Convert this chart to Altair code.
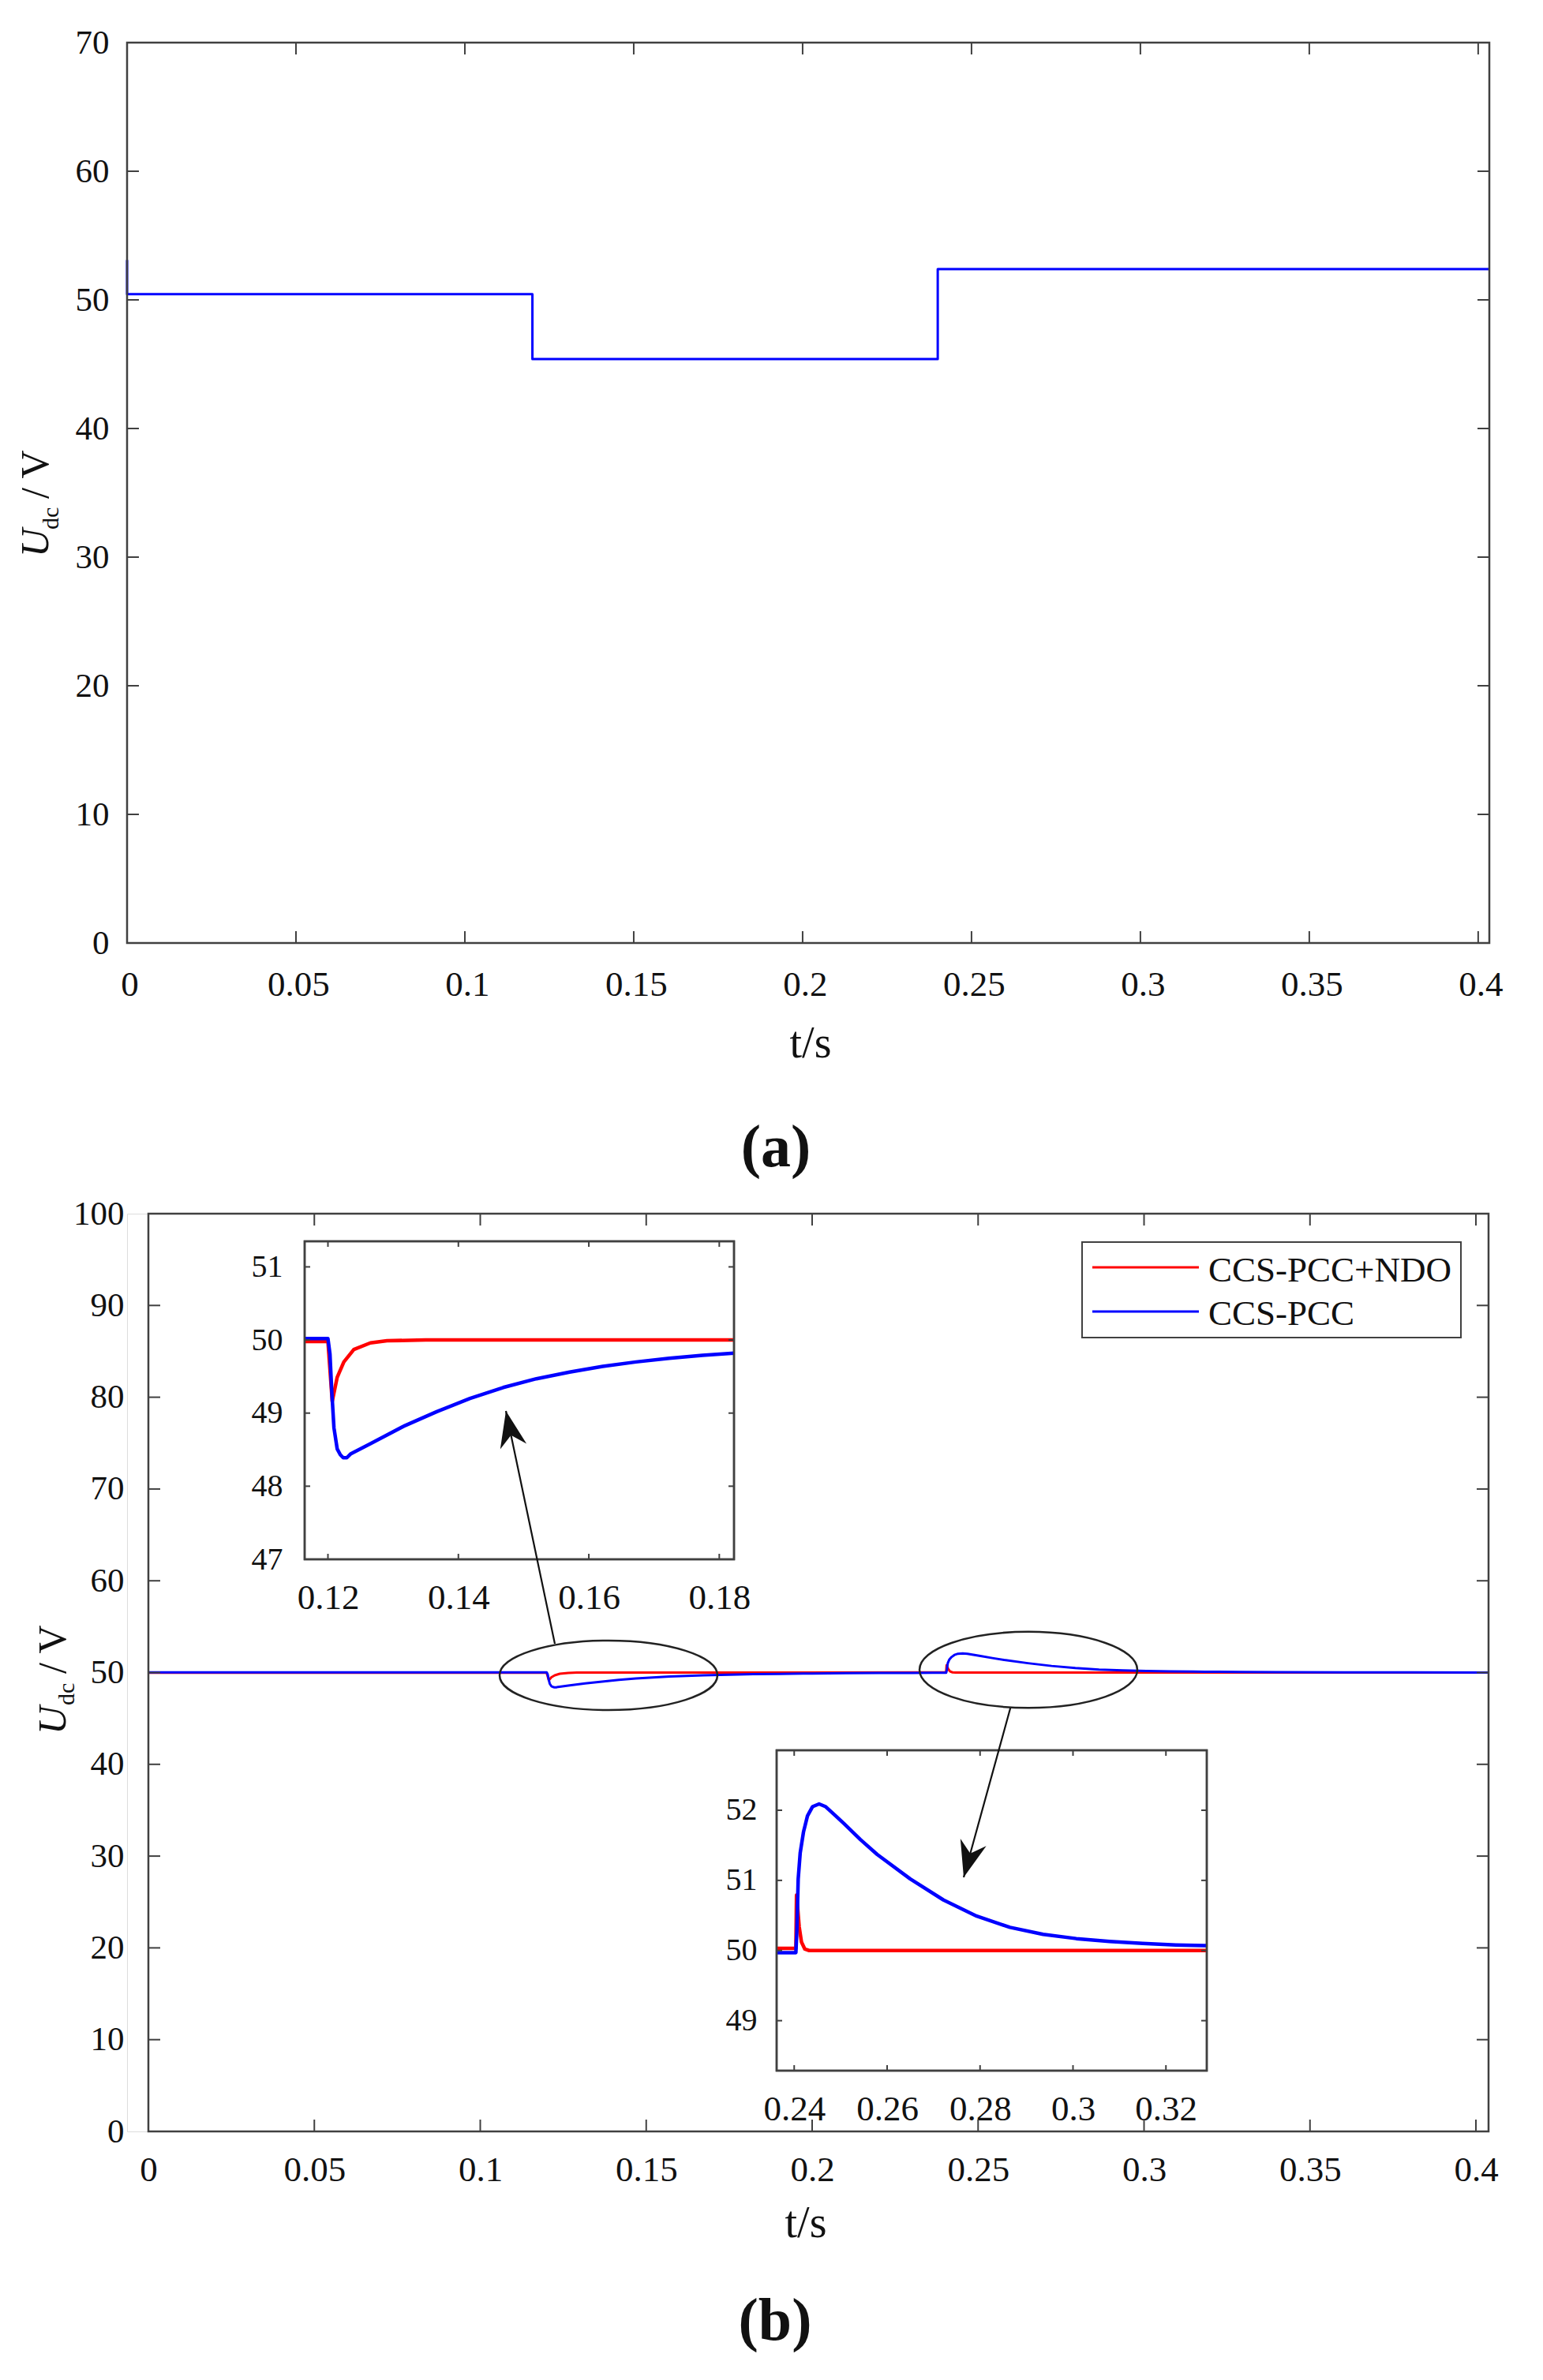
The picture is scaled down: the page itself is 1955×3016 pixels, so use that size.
import math
import altair as alt
import pandas as pd

# ---------------- data ----------------
# (a) DC-link voltage U_dc (V) versus time t (s)
a_t = [0.0, 0.0, 0.12, 0.12, 0.24, 0.24, 0.4033]
a_v = [53.1, 50.45, 50.45, 45.4, 45.4, 52.4, 52.4]

# (b) CCS-PCC+NDO (red)
red_t = [0.0, 0.11643, 0.1200, 0.12066, 0.12142, 0.12244, 0.12397, 0.12651, 0.12906,
         0.13500, 0.18226, 0.23622, 0.24036, 0.24050, 0.24071, 0.24107, 0.24157,
         0.24229, 0.24321, 0.28000, 0.32879, 0.4038]
red_v = [49.98, 49.98, 49.98, 49.16, 49.49, 49.70, 49.87, 49.96, 49.99,
         50.00, 50.00, 50.03, 50.03, 50.79, 50.64, 50.34, 50.12,
         50.02, 50.00, 50.00, 50.00, 50.00]

# (b) CCS-PCC (blue)
blue_t = [0.0, 0.11643, 0.1200, 0.12031, 0.12056, 0.12092, 0.12142, 0.1219, 0.12234,
          0.1229, 0.12346, 0.12651, 0.1316, 0.13669, 0.14178, 0.14687, 0.15196, 0.15705,
          0.16214, 0.16723, 0.17232, 0.17741, 0.18226, 0.19, 0.20, 0.21, 0.22, 0.23,
          0.23622, 0.24036, 0.24057, 0.24086, 0.24129, 0.2420, 0.24286, 0.24393, 0.24536,
          0.24679, 0.24893, 0.25071, 0.25429, 0.25786, 0.2650, 0.27214, 0.27929,
          0.28643, 0.29357, 0.30071, 0.30786, 0.3150, 0.32214, 0.32879, 0.34, 0.36,
          0.38, 0.4038]
blue_v = [50.02, 50.02, 50.02, 49.81, 49.34, 48.80, 48.51, 48.43, 48.39,
          48.39, 48.44, 48.58, 48.82, 49.02, 49.20, 49.35, 49.47, 49.56,
          49.64, 49.70, 49.75, 49.79, 49.82, 49.86, 49.90, 49.93, 49.95, 49.96,
          49.97, 49.97, 50.27, 51.02, 51.39, 51.69, 51.92, 52.05, 52.09,
          52.05, 51.92, 51.81, 51.58, 51.37, 51.02, 50.72, 50.49,
          50.33, 50.23, 50.17, 50.13, 50.10, 50.08, 50.07, 50.05, 50.03,
          50.02, 50.01]

series_names = ["CCS-PCC+NDO", "CCS-PCC"]
series_colors = ["#ff0000", "#0000ff"]

# tick values
a_xticks = [0, 0.05, 0.1, 0.15, 0.2, 0.25, 0.3, 0.35, 0.4]
a_yticks = [0, 10, 20, 30, 40, 50, 60, 70]
b_xticks = [0, 0.05, 0.1, 0.15, 0.2, 0.25, 0.3, 0.35, 0.4]
b_yticks = [0, 10, 20, 30, 40, 50, 60, 70, 80, 90, 100]
in1_xticks = [0.12, 0.14, 0.16, 0.18]
in1_yticks = [47, 48, 49, 50, 51]
in2_xticks = [0.24, 0.26, 0.28, 0.3, 0.32]
in2_yticks = [49, 50, 51, 52]

# annotation anchors in the (t, U) space of panel (b)
ell_t = [0.13864, 0.26516]
ell_v = [49.70, 50.30]
arrow_t0 = [0.12247, 0.25974]
arrow_v0 = [53.14, 46.15]
arrow_t1 = [0.10773, 0.24566]
arrow_v1 = [78.50, 27.69]

# ---------------- style / layout ----------------
FONT = "Liberation Serif"
TXT = "#111111"
FRAME = "#404040"

A_X, A_Y = [0, 0.4033], [0, 70]
A_W, A_H = 1726, 1141

B_X, B_Y = [0, 0.4038], [0, 100]
B_W, B_H = 1725, 1163
B_XR = [27, 1725]

I1_X, I1_Y = [0.11643, 0.18226], [47, 51.35]
I1_XR, I1_YR = [225, 769], [438, 35]
I2_X, I2_Y = [0.23622, 0.32879], [48.287, 52.855]
I2_XR, I2_YR = [823, 1368], [1086, 680]


def sc(dom, rng=None):
    kw = dict(domain=dom, nice=False, zero=False)
    if rng is not None:
        kw["range"] = rng
    return alt.Scale(**kw)


def xaxis(values, size, pad, offset=0, loff=0):
    return alt.Axis(orient="bottom", values=values, format="~g", domain=False, ticks=False,
                    tickSize=0, grid=False, title=None, labelFont=FONT, labelFontSize=size,
                    labelColor=TXT, labelPadding=pad, labelFlush=False, labelOverlap=False,
                    offset=offset, labelOffset=loff)


def yaxis(values, size, pad, offset=0):
    return alt.Axis(orient="left", values=values, format="d", domain=False, ticks=False,
                    tickSize=0, grid=False, title=None, labelFont=FONT, labelFontSize=size,
                    labelColor=TXT, labelPadding=pad, labelOverlap=False, offset=offset)


def enc(ch, xsc, ysc, xax, yax, x2=False, y2=False):
    kw = dict(x=alt.X("x:Q", scale=xsc, axis=xax), y=alt.Y("y:Q", scale=ysc, axis=yax))
    if x2:
        kw["x2"] = "x2:Q"
    if y2:
        kw["y2"] = "y2:Q"
    return ch.encode(**kw)


def frame_layer(xd, yd, xsc, ysc, xax, yax, fill_op, sw):
    df = pd.DataFrame({"x": [xd[0]], "x2": [xd[1]], "y": [yd[0]], "y2": [yd[1]]})
    ch = alt.Chart(df).mark_rect(fill="#ffffff", fillOpacity=fill_op, stroke=FRAME, strokeWidth=sw)
    return enc(ch, xsc, ysc, xax, yax, True, True)


def tick_layer(xt, yt, xd, yd, xpx, ypx, L, xsc, ysc, xax, yax, sw):
    dx = L * (xd[1] - xd[0]) / xpx
    dy = L * (yd[1] - yd[0]) / ypx
    rows = []
    for v in xt:
        rows.append(dict(x=v, x2=v, y=yd[0], y2=yd[0] + dy))
        rows.append(dict(x=v, x2=v, y=yd[1], y2=yd[1] - dy))
    for v in yt:
        rows.append(dict(x=xd[0], x2=xd[0] + dx, y=v, y2=v))
        rows.append(dict(x=xd[1], x2=xd[1] - dx, y=v, y2=v))
    ch = alt.Chart(pd.DataFrame(rows)).mark_rule(color=FRAME, strokeWidth=sw)
    return enc(ch, xsc, ysc, xax, yax, True, True)


def line_layer(ts, vs, color, width, xsc, ysc, xax, yax, rng=None):
    df = pd.DataFrame({"x": ts, "y": vs, "i": list(range(len(ts)))})
    ch = alt.Chart(df).mark_line(color=color, strokeWidth=width, strokeJoin="round")
    if rng is not None:
        ch = ch.transform_filter(alt.FieldRangePredicate(field="x", range=rng))
    return enc(ch, xsc, ysc, xax, yax).encode(order="i:Q")


ONE = pd.DataFrame({"k": [0]})


def text(s, x, y, size, angle=0, align="left", baseline="alphabetic", italic=False, bold=False):
    kw = dict(text=s, font=FONT, fontSize=size, color=TXT, align=align, baseline=baseline)
    if angle:
        kw["angle"] = angle
    if italic:
        kw["fontStyle"] = "italic"
    if bold:
        kw["fontWeight"] = "bold"
    return alt.Chart(ONE).mark_text(**kw).encode(x=alt.value(x), y=alt.value(y))


def anchor(x, y):
    return alt.Chart(ONE).mark_rect(color="#ffffff").encode(
        x=alt.value(x), x2=alt.value(x + 2), y=alt.value(y), y2=alt.value(y + 2))


def ytitle(xb, yb, xs, ys, yv):
    return [text("U", xb, yb, 50, angle=270, italic=True),
            text("dc", xs, ys, 30, angle=270),
            text("/ V", xb, yv, 50, angle=270)]


# ---------------- panel (a) ----------------
axs, ays = sc(A_X), sc(A_Y)
axa = xaxis(a_xticks, 45, 30, loff=3)
aya = yaxis(a_yticks, 43, 23)

panel_a = alt.layer(
    line_layer(a_t, a_v, "#0000ff", 3, axs, ays, axa, aya),
    frame_layer(A_X, A_Y, axs, ays, axa, aya, 0, 2.5),
    tick_layer(a_xticks, a_yticks, A_X, A_Y, A_W, A_H, 15, axs, ays, axa, aya, 2),
    *ytitle(-100, 652, -87, 617, 578),
    text("t/s", 866, 1286, 56, align="center"),
    text("(a)", 822, 1424, 76, align="center", bold=True),
    anchor(-152, -45),
    anchor(0, 1451),
).properties(width=A_W, height=A_H)

# ---------------- panel (b) ----------------
bxs, bys = sc(B_X, B_XR), sc(B_Y)
bxa = xaxis(b_xticks, 45, 26)
bya = yaxis(b_yticks, 43, 31, offset=-B_XR[0])

ell_paths = []
for rx, ry in [(138, 44), (137.5, 48)]:
    k, c = ry / rx, 0.5523
    ell_paths.append(
        f"M-1,0 C-1,{-k*c:.4f} {-c:.4f},{-k:.4f} 0,{-k:.4f} "
        f"C{c:.4f},{-k:.4f} 1,{-k*c:.4f} 1,0 "
        f"C1,{k*c:.4f} {c:.4f},{k:.4f} 0,{k:.4f} "
        f"C{-c:.4f},{k:.4f} -1,{k*c:.4f} -1,0 Z")
ell_df = pd.DataFrame({"x": ell_t, "y": ell_v, "shp": ell_paths})
ellipses = enc(alt.Chart(ell_df).mark_point(filled=False, color="#222222", strokeWidth=2.5,
                                            size=276 ** 2, opacity=1),
               bxs, bys, bxa, bya).encode(shape=alt.Shape("shp:N", scale=None))

main_block = alt.layer(
    line_layer(red_t, red_v, series_colors[0], 3, bxs, bys, bxa, bya),
    line_layer(blue_t, blue_v, series_colors[1], 3, bxs, bys, bxa, bya),
    frame_layer(B_X, B_Y, bxs, bys, bxa, bya, 0, 2.5),
    tick_layer(b_xticks, b_yticks, B_X, B_Y, B_XR[1] - B_XR[0], B_H, 15, bxs, bys, bxa, bya, 2),
    ellipses,
)


def inset(xd, yd, xr, yr, xt, yt, ypad):
    xsc, ysc = sc(xd, xr), sc(yd, yr)
    xa = xaxis(xt, 45, 26, offset=-(B_H - yr[0]))
    ya = yaxis(yt, 40, ypad, offset=-xr[0])
    return alt.layer(
        frame_layer(xd, yd, xsc, ysc, xa, ya, 1, 2.5),
        line_layer(red_t, red_v, series_colors[0], 4.5, xsc, ysc, xa, ya, rng=xd),
        line_layer(blue_t, blue_v, series_colors[1], 4.5, xsc, ysc, xa, ya, rng=xd),
        tick_layer(xt, yt, xd, yd, xr[1] - xr[0], yr[0] - yr[1], 7, xsc, ysc, xa, ya, 2),
        frame_layer(xd, yd, xsc, ysc, xa, ya, 0, 2.5),
    )


inset1 = inset(I1_X, I1_Y, I1_XR, I1_YR, in1_xticks, in1_yticks, 28)
inset2 = inset(I2_X, I2_Y, I2_XR, I2_YR, in2_xticks, in2_yticks, 25)

# arrows (same scales as the main (b) axes, drawn above the insets)
pxt = (B_XR[1] - B_XR[0]) / (B_X[1] - B_X[0])
pxv = B_H / (B_Y[1] - B_Y[0])
angles = []
for t0, v0, t1, v1 in zip(arrow_t0, arrow_v0, arrow_t1, arrow_v1):
    dx, dy = (t1 - t0) * pxt, -(v1 - v0) * pxv
    angles.append(math.degrees(math.atan2(dx, -dy)) % 360)
arr_df = pd.DataFrame({"x": arrow_t0, "y": arrow_v0, "x2": arrow_t1, "y2": arrow_v1})
head_df = pd.DataFrame({"x": arrow_t1, "y": arrow_v1, "ang": angles})
axs2, ays2 = sc(B_X, B_XR), sc(B_Y)
arrow_block = alt.layer(
    enc(alt.Chart(arr_df).mark_rule(color="#111111", strokeWidth=2.2), axs2, ays2, None, None, True, True),
    enc(alt.Chart(head_df).mark_point(shape="M0,0 L0.37,1 L0,0.68 L-0.37,1 Z", filled=True,
                                      color="#111111", size=92 ** 2, opacity=1),
        axs2, ays2, None, None).encode(angle=alt.Angle("ang:Q", scale=None)),
)

legend_layers = [
    alt.Chart(ONE).mark_rect(fill="#ffffff", stroke=FRAME, strokeWidth=2).encode(
        x=alt.value(1210), x2=alt.value(1690), y=alt.value(36), y2=alt.value(157)),
    alt.Chart(ONE).mark_rule(color=series_colors[0], strokeWidth=3).encode(
        x=alt.value(1223), x2=alt.value(1358), y=alt.value(68)),
    alt.Chart(ONE).mark_rule(color=series_colors[1], strokeWidth=3).encode(
        x=alt.value(1223), x2=alt.value(1358), y=alt.value(124)),
    text(series_names[0], 1370, 86, 45),
    text(series_names[1], 1370, 141, 45),
]

panel_b = alt.layer(
    main_block, inset1, inset2, arrow_block,
    *legend_layers,
    *ytitle(-78, 660, -67, 623, 583),
    text("t/s", 860, 1297, 56, align="center"),
    text("(b)", 821, 1427, 76, align="center", bold=True),
    anchor(0, -25),
).resolve_scale(x="independent", y="independent").properties(width=B_W, height=B_H)

chart = alt.vconcat(panel_a, panel_b, spacing=4).properties(padding=0).configure_view(
    stroke=None).configure(font=FONT)

chart.save("out.html", embed_options={"renderer": "svg", "actions": False})
